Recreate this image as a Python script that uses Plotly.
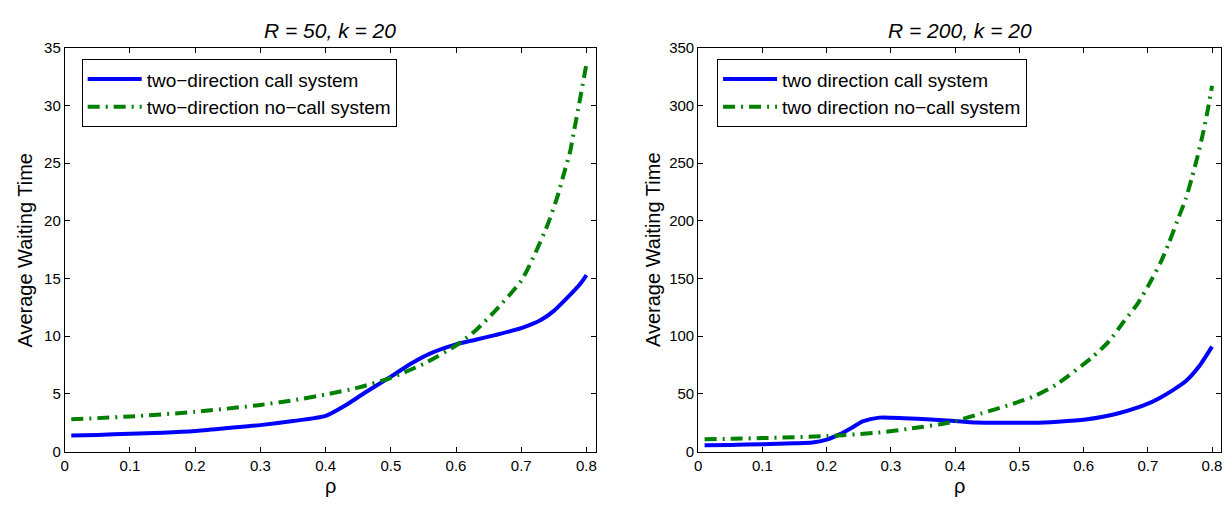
import plotly.graph_objects as go

# ---- data ----
rho_call_50 = [0.01, 0.05, 0.1, 0.15, 0.2, 0.25, 0.3, 0.35, 0.4, 0.43, 0.46, 0.5, 0.53, 0.56, 0.6, 0.63, 0.66, 0.7, 0.73, 0.75, 0.77, 0.79, 0.80]
wait_call_50 = [1.4, 1.45, 1.55, 1.65, 1.8, 2.05, 2.3, 2.65, 3.1, 4.0, 5.1, 6.5, 7.6, 8.5, 9.3, 9.7, 10.1, 10.7, 11.4, 12.2, 13.3, 14.5, 15.3]

rho_nocall_50 = [0.01, 0.1, 0.2, 0.3, 0.35, 0.4, 0.45, 0.5, 0.55, 0.6, 0.63, 0.66, 0.7, 0.72, 0.74, 0.755, 0.765, 0.775, 0.78, 0.79, 0.80]
wait_nocall_50 = [2.8, 3.05, 3.45, 4.05, 4.45, 4.95, 5.55, 6.4, 7.6, 9.2, 10.5, 12.2, 14.8, 17.0, 19.6, 22.0, 24.0, 26.0, 27.5, 30.5, 33.6]

rho_call_200 = [0.01, 0.05, 0.1, 0.15, 0.178, 0.2, 0.22, 0.24, 0.256, 0.282, 0.32, 0.362, 0.4, 0.432, 0.48, 0.523, 0.56, 0.603, 0.63, 0.656, 0.68, 0.704, 0.72, 0.741, 0.758, 0.78, 0.80]
wait_call_200 = [5.5, 5.8, 6.5, 7.3, 8.0, 10.5, 15, 21, 26.2, 29.5, 29, 27.8, 26.5, 25.2, 25, 25, 26, 27.8, 30.2, 33.5, 37.5, 42.5, 47, 54, 60.5, 74, 91]

rho_nocall_200 = [0.01, 0.1, 0.2, 0.28, 0.33, 0.39, 0.44, 0.49, 0.525, 0.557, 0.614, 0.64, 0.663, 0.684, 0.702, 0.72, 0.733, 0.746, 0.759, 0.769, 0.778, 0.786, 0.793, 0.80]
wait_nocall_200 = [10.7, 11.8, 13.5, 16.5, 20, 25, 33, 41.5, 48.5, 58, 82, 96, 113, 128, 145, 164, 181, 200, 219, 238, 257, 276, 295, 317]

x_ticks = [0, 0.1, 0.2, 0.3, 0.4, 0.5, 0.6, 0.7, 0.8]
x_ticklabels = ["0", "0.1", "0.2", "0.3", "0.4", "0.5", "0.6", "0.7", "0.8"]
y_ticks_50 = [0, 5, 10, 15, 20, 25, 30, 35]
y_ticks_200 = [0, 50, 100, 150, 200, 250, 300, 350]

titles = ["R = 50, k = 20", "R = 200, k = 20"]
names_50 = ["two\u2212direction call system", "two\u2212direction no\u2212call system"]
names_200 = ["two direction call system", "two direction no\u2212call system"]

BLUE = "rgb(0,0,255)"
GREEN = "rgb(0,128,0)"
FONT = "Liberation Sans, Arial, Helvetica, sans-serif"
W, H = 1229, 508
DASHDOT = "12px,6px,2px,6px"
XMAX = 0.814
LEFT_DOM = [61, 594]
RIGHT_DOM = [697, 1222]

fig = go.Figure()
fig.add_trace(go.Scatter(x=rho_call_50, y=wait_call_50, mode="lines", name=names_50[0],
                         line=dict(color=BLUE, width=4, shape="spline", smoothing=0.6), xaxis="x", yaxis="y", legend="legend"))
fig.add_trace(go.Scatter(x=rho_nocall_50, y=wait_nocall_50, mode="lines", name=names_50[1],
                         line=dict(color=GREEN, width=4, dash=DASHDOT, shape="spline", smoothing=0.6),
                         xaxis="x", yaxis="y", legend="legend"))
fig.add_trace(go.Scatter(x=rho_call_200, y=wait_call_200, mode="lines", name=names_200[0],
                         line=dict(color=BLUE, width=4, shape="spline", smoothing=0.6), xaxis="x2", yaxis="y2", legend="legend2"))
fig.add_trace(go.Scatter(x=rho_nocall_200, y=wait_nocall_200, mode="lines", name=names_200[1],
                         line=dict(color=GREEN, width=4, dash=DASHDOT, shape="spline", smoothing=0.6),
                         xaxis="x2", yaxis="y2", legend="legend2"))

ydom = [(H - 458) / H, (H - 40) / H]
axis_common = dict(showline=True, linecolor="black", linewidth=1, mirror="allticks",
                   ticks="inside", ticklen=5, tickcolor="black", showgrid=False, zeroline=False,
                   tickfont=dict(family=FONT, size=15, color="black"))

legend_common = dict(xanchor="left", yanchor="top", bgcolor="white", bordercolor="black", borderwidth=1,
                     font=dict(family=FONT, size=19), tracegroupgap=0, itemwidth=54)

lcx = (LEFT_DOM[0] + LEFT_DOM[1]) / 2 / W
rcx = (RIGHT_DOM[0] + RIGHT_DOM[1]) / 2 / W

fig.update_layout(
    width=W, height=H,
    margin=dict(l=0, r=0, t=0, b=0),
    paper_bgcolor="white", plot_bgcolor="white",
    font=dict(family=FONT, color="black"),
    xaxis=dict(domain=[LEFT_DOM[0] / W, LEFT_DOM[1] / W], range=[0, XMAX], tickvals=x_ticks, ticktext=x_ticklabels, anchor="y", **axis_common),
    yaxis=dict(domain=ydom, range=[0, 35], tickvals=y_ticks_50, anchor="x", **axis_common),
    xaxis2=dict(domain=[RIGHT_DOM[0] / W, RIGHT_DOM[1] / W], range=[0, XMAX], tickvals=x_ticks, ticktext=x_ticklabels, anchor="y2", **axis_common),
    yaxis2=dict(domain=ydom, range=[0, 350], tickvals=y_ticks_200, anchor="x2", **axis_common),
    legend=dict(x=78 / W, y=1 - 52 / H, **legend_common),
    legend2=dict(x=716 / W, y=1 - 52 / H, **legend_common),
    annotations=[
        dict(text="<i>" + titles[0] + "</i>", x=lcx, y=1 - 22 / H, xref="paper", yref="paper",
             showarrow=False, font=dict(family=FONT, size=21), xanchor="center", yanchor="middle"),
        dict(text="<i>" + titles[1] + "</i>", x=rcx, y=1 - 22 / H, xref="paper", yref="paper",
             showarrow=False, font=dict(family=FONT, size=21), xanchor="center", yanchor="middle"),
        dict(text="Average Waiting Time", x=21 / W, y=1 - 249 / H, xref="paper", yref="paper", textangle=-90,
             showarrow=False, font=dict(family=FONT, size=20), xanchor="center", yanchor="middle"),
        dict(text="Average Waiting Time", x=651 / W, y=1 - 249 / H, xref="paper", yref="paper", textangle=-90,
             showarrow=False, font=dict(family=FONT, size=20), xanchor="center", yanchor="middle"),
        dict(text="ρ", x=lcx, y=1 - 494 / H, xref="paper", yref="paper",
             showarrow=False, font=dict(family=FONT, size=20), xanchor="center", yanchor="middle"),
        dict(text="ρ", x=rcx, y=1 - 494 / H, xref="paper", yref="paper",
             showarrow=False, font=dict(family=FONT, size=20), xanchor="center", yanchor="middle"),
    ],
)

fig.write_html("out.html")
